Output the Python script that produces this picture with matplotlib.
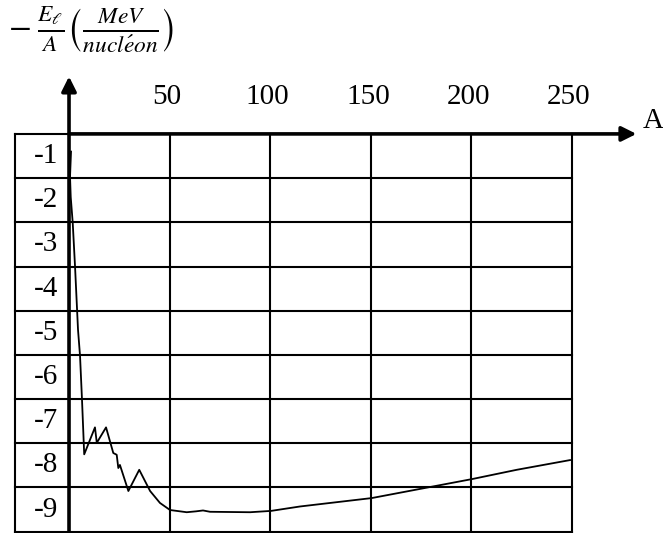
import matplotlib
matplotlib.use('Agg')
import matplotlib.pyplot as plt

plt.rcParams['mathtext.fontset'] = 'stix'

# Courbe d'Aston (A, -El/A en MeV/nucléon)
A = [1, 0.5, 0.85, 1.84, 2.98, 4.47, 5.47, 6.46, 7.55, 12.9, 13.8, 18.4,
     22.0, 23.7, 24.5, 25.3, 29.5, 34.9, 40.3, 45.2, 50.2, 58.5, 63.1,
     66.6, 70.1, 90.0, 100.4, 114.8, 150.4, 175.9, 200.3, 222.5, 249.0]
E = [-0.9, -1.47, -1.93, -2.51, -3.49, -4.93, -5.52, -6.52, -7.75, -7.14,
     -7.49, -7.14, -7.72, -7.76, -8.06, -7.99, -8.58, -8.10, -8.58, -8.85,
     -9.01, -9.06, -9.04, -9.02, -9.05, -9.06, -9.03, -8.93, -8.74, -8.52,
     -8.31, -8.10, -7.88]

x_ticks = [50, 100, 150, 200, 250]
y_ticks = [-1, -2, -3, -4, -5, -6, -7, -8, -9]

serif = 'Liberation Serif'

fig = plt.figure(figsize=(6.63, 5.33), dpi=100)
ax = fig.add_axes([0, 0, 1, 1])
ax.set_xlim(-34.3, 295.2)
ax.set_ylim(-9.53, 2.53)
ax.axis('off')

left = -26.8
top = -0.5
bottom = -9.5

# tableau
for k in range(1, 10):
    ax.plot([left, 250], [top - k, top - k], color='black', lw=1.5)
ax.plot([left, 0], [top, top], color='black', lw=1.5)
for xv in [left] + x_ticks:
    ax.plot([xv, xv], [bottom, top], color='black', lw=1.5)

# axes avec flèches
ax.annotate('', xy=(282, top), xytext=(0, top),
            arrowprops=dict(arrowstyle='-|>', lw=2.6, color='black',
                            mutation_scale=22, shrinkA=0, shrinkB=0))
ax.annotate('', xy=(0, 0.8), xytext=(0, bottom - 0.05),
            arrowprops=dict(arrowstyle='-|>', lw=2.6, color='black',
                            mutation_scale=22, shrinkA=0, shrinkB=0))

# courbe
ax.plot(A, E, color='black', lw=1.3)

for xv in x_ticks:
    ax.text(xv - 1.5, 0.34, str(xv), ha='center', va='center',
            fontsize=21, family=serif)
for yv in y_ticks:
    ax.text(-5.5, yv, str(yv), ha='right', va='center',
            fontsize=21, family=serif)

ax.text(285, -0.2, 'A', ha='left', va='center', fontsize=21, family=serif)
ax.text(-30.5, 1.85,
        r'$-\;\frac{E_\ell}{A}\left(\frac{MeV}{nucl\acute{e}on}\right)$',
        ha='left', va='center', fontsize=24)

fig.savefig('out.png', dpi=100)
